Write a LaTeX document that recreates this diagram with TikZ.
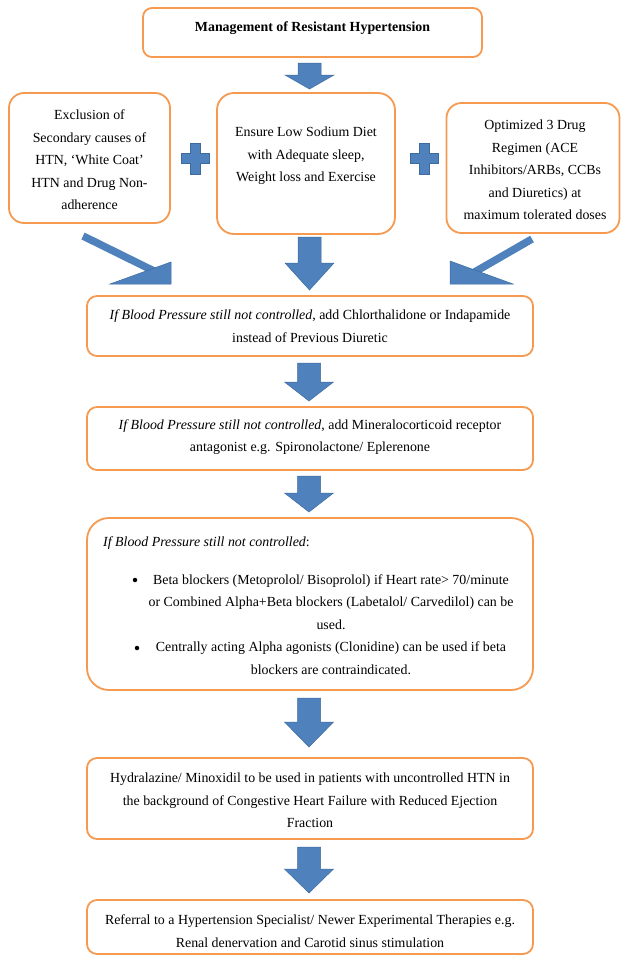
\documentclass[tikz,border=0pt]{standalone}
\usepackage{fontspec}
\setmainfont{Liberation Serif}
\definecolor{boxorange}{HTML}{F59A50}
\definecolor{arrowblue}{HTML}{4F81BD}
\definecolor{arrowedge}{HTML}{3D6B9F}
\tikzset{
  box/.style={draw=boxorange, line width=1.8pt, fill=white, inner sep=0pt},
  txt/.style={inner sep=0pt, align=center, font=\fontsize{13.9}{22.5}\selectfont},
  bulletdot/.style={circle, fill=black, inner sep=0pt, minimum size=4.5pt},
  arrowfill/.style={fill=arrowblue, draw=arrowedge, line width=0.5pt, line join=miter},
}
\newcommand\myarrow[4]{% x, ytop, yhead, ytip
  \filldraw[arrowfill] (#1-11.5,#2) -- (#1+11.5,#2) -- (#1+11.5,#3) -- (#1+24.5,#3)
    -- (#1,#4) -- (#1-24.5,#3) -- (#1-11.5,#3) -- cycle;}
\begin{document}
\begin{tikzpicture}[x=1pt,y=-1pt]
\useasboundingbox (0,0) rectangle (622,956);
\fill[white] (0,0) rectangle (622,956);

% title
\node[box, rounded corners=9pt, minimum width=339pt, minimum height=49pt] (title) at (312.5,32.5) {};
\node[txt, font=\fontsize{13.9}{22.5}\selectfont\bfseries] (ttitle) at (312.5,28) {Management of Resistant Hypertension};

\myarrow{309.5}{63}{75}{89}

% three top boxes
\node[box, rounded corners=15pt, minimum width=161pt, minimum height=130pt] (left) at (89.5,158) {};
\node[txt] (tleft) at (89.5,160) {Exclusion of\\Secondary causes of\\HTN, `White Coat'\\HTN and Drug Non-\\adherence};

\node[box, rounded corners=17pt, minimum width=178pt, minimum height=141pt] (mid) at (306,163.5) {};
\node[txt] (tmid) at (306,156) {Ensure Low Sodium Diet\\with Adequate sleep,\\Weight loss and Exercise};

\node[box, rounded corners=15pt, minimum width=173pt, minimum height=130pt] (right) at (533,168) {};
\node[txt] (tright) at (535,170) {Optimized 3 Drug\\Regimen (ACE\\Inhibitors/ARBs, CCBs\\and Diuretics) at\\maximum tolerated doses};

% plus signs
\filldraw[arrowfill] (190,143) -- (200,143) -- (200,153) -- (209,153) -- (209,163) -- (200,163) -- (200,174) -- (190,174) -- (190,163) -- (181,163) -- (181,153) -- (190,153) -- cycle;
\filldraw[arrowfill] (419,143) -- (429,143) -- (429,153) -- (438,153) -- (438,163) -- (429,163) -- (429,174) -- (419,174) -- (419,163) -- (410,163) -- (410,153) -- (419,153) -- cycle;

% converging arrows
\draw[arrowblue, line width=7.5pt] (83,236) -- (158,273);
\filldraw[arrowfill] (110,284) -- (171,262) -- (171,284) -- cycle;
\myarrow{309.5}{237}{263}{290}
\draw[arrowblue, line width=7.5pt] (532,239) -- (466,277);
\filldraw[arrowfill] (450,261) -- (450,284) -- (513,284) -- cycle;

% box 2
\node[box, rounded corners=10pt, minimum width=446pt, minimum height=60pt] (b2) at (310,326) {};
\node[txt] (t2) at (310,326) {\textit{If Blood Pressure still not controlled}, add Chlorthalidone or Indapamide\\instead of Previous Diuretic};

\myarrow{309}{363}{382}{401}

% box 3
\node[box, rounded corners=10pt, minimum width=446pt, minimum height=63pt] (b3) at (310,438.5) {};
\node[txt] (t3) at (310,437) {\textit{If Blood Pressure still not controlled}, add Mineralocorticoid receptor\\antagonist e.g. Spironolactone/ Eplerenone};

\myarrow{309}{476}{493}{512}

% box 4
\node[box, rounded corners=22pt, minimum width=446pt, minimum height=172pt] (b4) at (310,604) {};
\node[txt, anchor=west] (t4a) at (103,543) {\textit{If Blood Pressure still not controlled}:};
\node[bulletdot] (bul1) at (135,580) {};
\node[txt] (t4b) at (331,602) {Beta blockers (Metoprolol/ Bisoprolol) if Heart rate> 70/minute\\or Combined Alpha+Beta blockers (Labetalol/ Carvedilol) can be\\used.};
\node[bulletdot] (bul2) at (137,648) {};
\node[txt] (t4c) at (331,658) {Centrally acting Alpha agonists (Clonidine) can be used if beta\\blockers are contraindicated.};

\myarrow{309}{698}{722}{747}

% box 5
\node[box, rounded corners=10pt, minimum width=446pt, minimum height=81pt] (b5) at (310,798.5) {};
\node[txt] (t5) at (310,800.5) {Hydralazine/ Minoxidil to be used in patients with uncontrolled HTN in\\the background of Congestive Heart Failure with Reduced Ejection\\Fraction};

\myarrow{309}{847}{869}{893}

% box 6
\node[box, rounded corners=10pt, minimum width=446pt, minimum height=54pt] (b6) at (310,927) {};
\node[txt] (t6) at (310,931) {Referral to a Hypertension Specialist/ Newer Experimental Therapies e.g.\\Renal denervation and Carotid sinus stimulation};
\end{tikzpicture}
\end{document}
